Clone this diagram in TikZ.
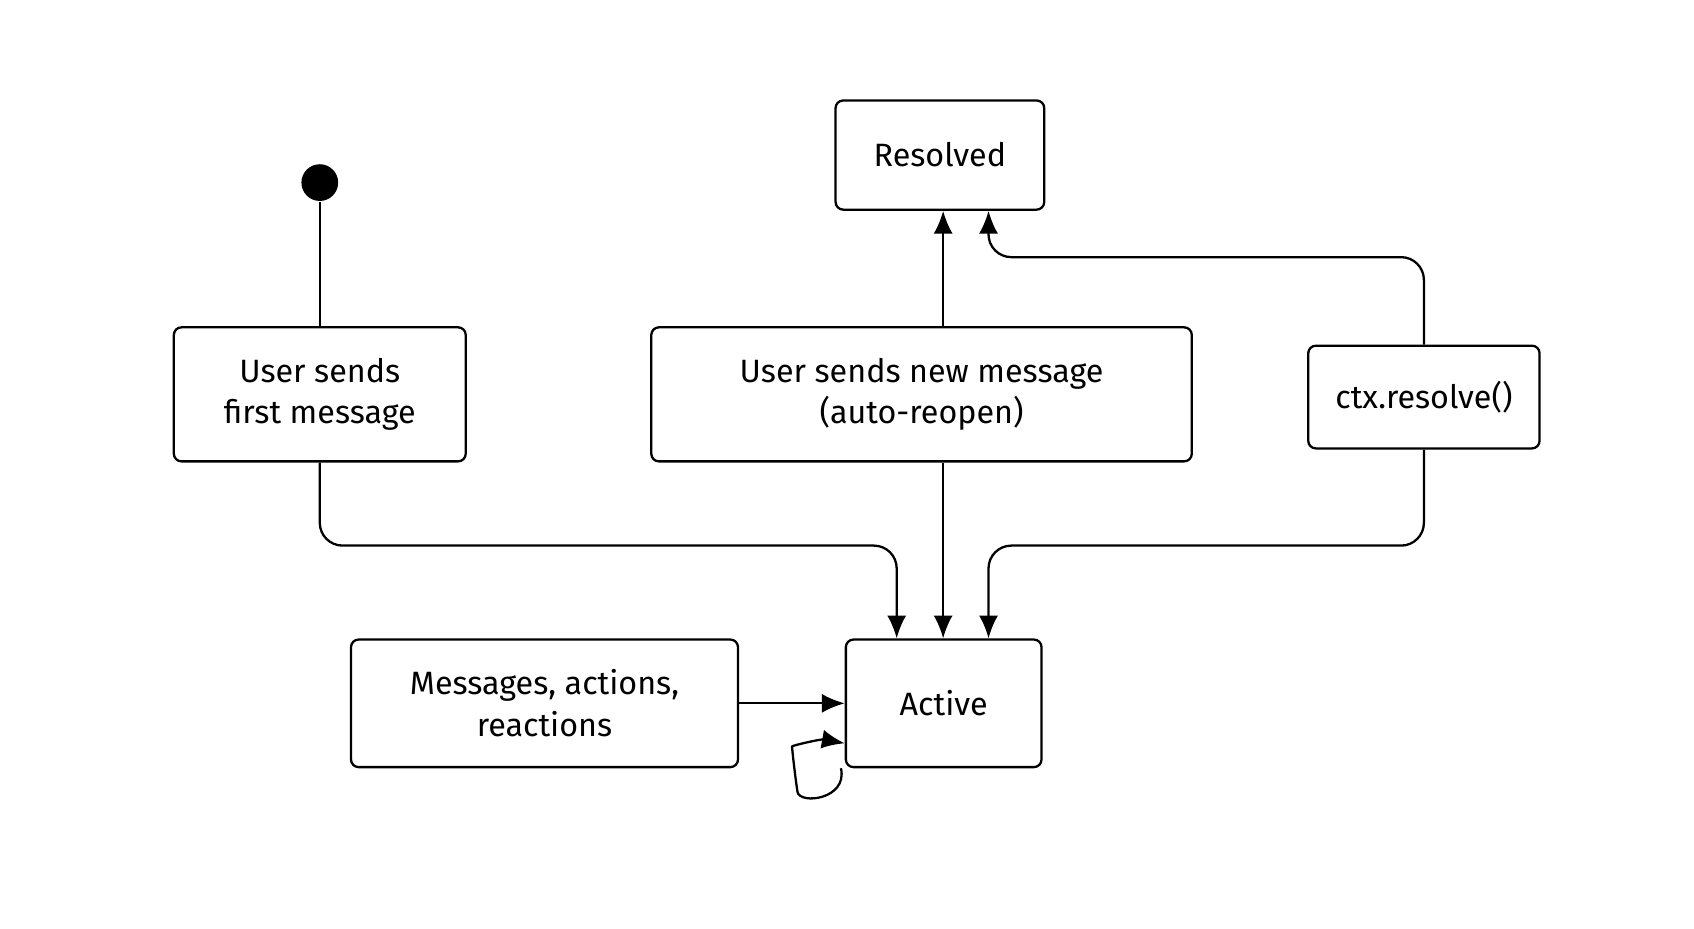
\documentclass[tikz,border=0pt]{standalone}
\usepackage{fontspec}
\setmainfont{Fira Sans}
\usetikzlibrary{positioning, arrows.meta}

\begin{document}
\begin{tikzpicture}
[
    x=0.01cm, y=-0.01cm, line width=0.6pt,
    % boxes are named after the state they show
    state/.style={draw, rounded corners=2pt, align=center, inner sep=0pt,
                  font=\fontsize{8.5}{11}\selectfont},
    arr/.style={-{Latex[length=6pt,width=5pt]}, rounded corners=6pt}
]

%=================================== Start ===================================
\useasboundingbox (0,0) rectangle (1568,859);

% Nodes
\node[circle, fill, minimum size=0.34cm, inner sep=0pt] (start) at (296,169) {};
\node[state, minimum width=2.70cm, minimum height=1.24cm] (first)    at (296,365) {User sends\\first message};
\node[state, minimum width=5.00cm, minimum height=1.24cm] (reopen)   at (853,365) {User sends new message\\(auto-reopen)};
\node[state, minimum width=2.14cm, minimum height=0.95cm] (resolve)  at (1318,367.5) {ctx.resolve()};
\node[state, minimum width=1.93cm, minimum height=1.01cm] (resolved) at (870,143.5) {Resolved};
\node[state, minimum width=3.58cm, minimum height=1.18cm] (msgs)     at (504,651) {Messages, actions,\\reactions};
\node[state, minimum width=1.81cm, minimum height=1.18cm] (active)   at (873.5,651) {Active};

% Connections
\draw (start) -- (first);
\draw[arr] (first.south) |- (830,505) -- (830,592) coordinate (a1) -- (a1 |- active.north);
\draw[arr] (reopen.south -| 873,0) -- (active.north -| 873,0);
\draw[arr] (resolve.south) |- (915,505) -- (915,592 |- active.north);
\draw[arr] (reopen.north -| 873,0) -- (resolved.south -| 873,0);
\draw[arr] (resolve.north) |- (915,238) -- (resolved.south -| 915,0);
\draw[arr] (msgs.east) -- (active.west);
% self loop
\draw[arr] ([xshift=-1pt]active.south west)
    .. controls (785,740) and (740,745) .. (735,712)
    .. controls (733,690) and (760,684) .. (active.west |- 0,688);
%==================================== END ====================================

\end{tikzpicture}
\end{document}
